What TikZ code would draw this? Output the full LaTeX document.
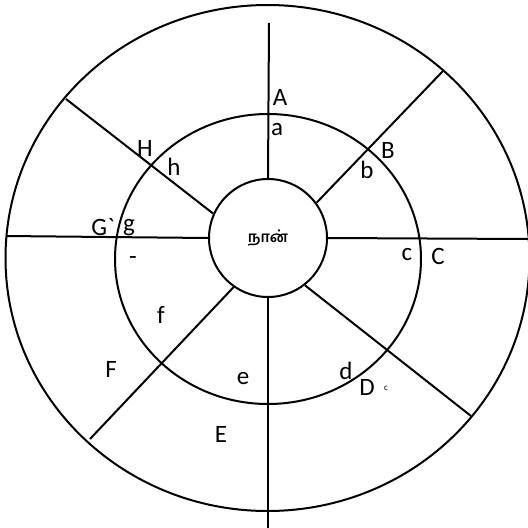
\documentclass[tikz,border=0pt]{standalone}
\usepackage{fontspec}
\newfontfamily\labelfont{Carlito}
\newfontfamily\tamilfont[Script=Tamil]{Hind Madurai}
\usetikzlibrary{positioning}

\begin{document}
\begin{tikzpicture}[
        x=1pt, y=-1pt,
        ring/.style={draw, line width=2pt},
        spoke/.style={line width=2pt},
        lbl/.style={font=\labelfont\fontsize{25}{25}\selectfont, inner sep=0pt},
        self/.style={draw, circle, line width=2pt, minimum size=118pt, inner sep=0pt, font=\tamilfont\bfseries\fontsize{15}{15}\selectfont}
    ]
    \useasboundingbox (0,0) rectangle (528,528);

    % the rings
    \draw[ring] (267.5,258) ellipse [x radius=262pt, y radius=253pt];
    \draw[ring] (268,259) ellipse [x radius=153pt, y radius=145pt];
    \node[self] (Me) at (268,238) {நான்};

    % outer ends of the spokes
    \coordinate (TopEnd) at (269,23);
    \coordinate (BotEnd) at (268,528);
    \coordinate (LeftEnd) at (6,236);
    \coordinate (RightEnd) at (528,239);
    \coordinate (NWEnd) at (66,99);
    \coordinate (NEEnd) at (443,71);
    \coordinate (SEEnd) at (471,416);
    \coordinate (SWEnd) at (90,439);

    \draw[spoke] (Me.north) -- (TopEnd);
    \draw[spoke] (Me.south) -- (BotEnd);
    \draw[spoke] (Me.west) -- (LeftEnd);
    \draw[spoke] (Me.east) -- (RightEnd);
    \draw[spoke] (Me.156) -- (NWEnd);
    \draw[spoke] (Me.36) -- (NEEnd);
    \draw[spoke] (Me.-52) -- (SEEnd);
    \draw[spoke] (Me.235) -- (SWEnd);

    % labels
    \node[lbl] (A) at (280,97) {A};
    \node[lbl] (a) at (277,130) {a};
    \node[lbl] (B) at (388,150) {B};
    \node[lbl] (b) at (367,170) {b};
    \node[lbl] (C) at (438,256) {C};
    \node[lbl] (c) at (407,255) {c};
    \node[lbl] (D) at (367,387) {D};
    \node[font=\labelfont\fontsize{9}{9}\selectfont, inner sep=0pt] (Dc) at (386,388) {c};
    \node[lbl] (d) at (346,371) {d};
    \node[lbl] (E) at (221,434) {E};
    \node[lbl] (e) at (243,379) {e};
    \node[lbl] (F) at (111,369) {F};
    \node[lbl] (f) at (161,315) {f};
    \node[lbl] (G) at (103,227) {G\textasciigrave};
    \node[lbl] (g) at (129,228) {g};
    \node[lbl] (Dash) at (133,261) {-};
    \node[lbl] (H) at (145,148) {H};
    \node[lbl] (h) at (174,167) {h};

\end{tikzpicture}
\end{document}
